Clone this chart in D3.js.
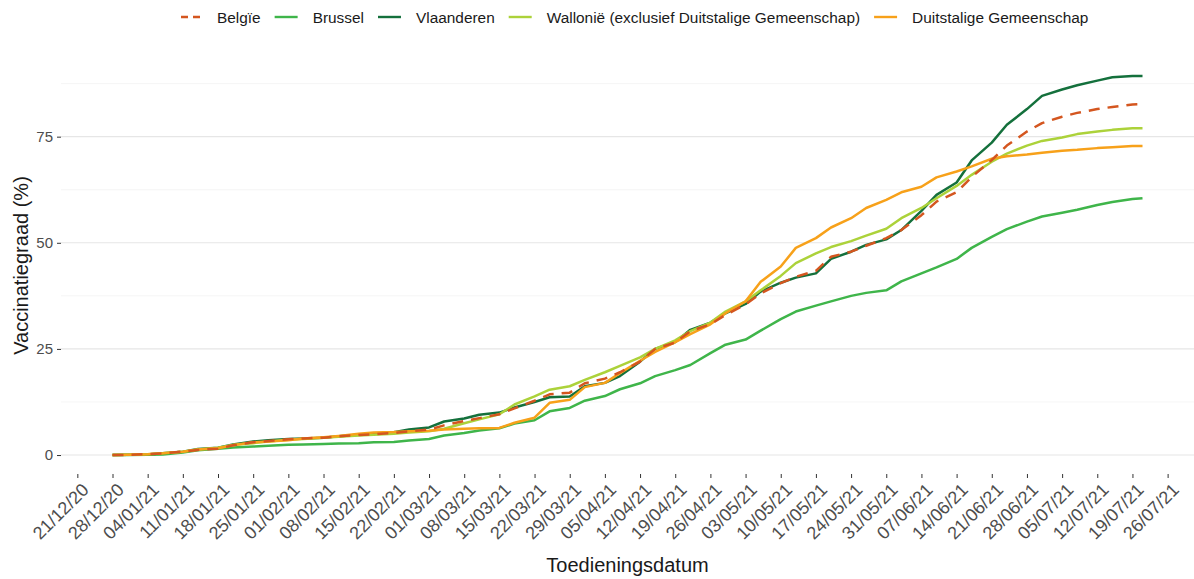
<!DOCTYPE html>
<html>
<head>
<meta charset="utf-8">
<script src="https://cdn.jsdelivr.net/npm/d3@7"></script>
<style>
  html, body { margin: 0; padding: 0; background: #fff; }
  svg { display: block; font-family: "Liberation Sans", Arial, sans-serif; }
</style>
</head>
<body>
<svg id="chart" width="1194" height="579"></svg>
<script>
const dates = ["2020-12-28","2020-12-31","2021-01-04","2021-01-07","2021-01-11","2021-01-14","2021-01-18","2021-01-21",
  "2021-01-25","2021-01-28","2021-02-01","2021-02-04","2021-02-08","2021-02-11","2021-02-15","2021-02-18",
  "2021-02-22","2021-02-25","2021-03-01","2021-03-04","2021-03-08","2021-03-11","2021-03-15","2021-03-18",
  "2021-03-22","2021-03-25","2021-03-29","2021-04-01","2021-04-05","2021-04-08","2021-04-12","2021-04-15",
  "2021-04-19","2021-04-22","2021-04-26","2021-04-29","2021-05-03","2021-05-06","2021-05-10","2021-05-13",
  "2021-05-17","2021-05-20","2021-05-24","2021-05-27","2021-05-31","2021-06-03","2021-06-07","2021-06-10",
  "2021-06-14","2021-06-17","2021-06-21","2021-06-24","2021-06-28","2021-07-01","2021-07-05","2021-07-08",
  "2021-07-12","2021-07-15","2021-07-19","2021-07-21"];

const belgie = [0, 0.05, 0.2, 0.4, 0.8, 1.2, 1.5, 2.3, 3.0, 3.3, 3.7, 3.9, 4.1, 4.4, 4.7, 4.9, 5.2, 5.6, 6.0, 7.0,
  8.0, 8.7, 9.6, 11.0, 12.8, 14.3, 14.7, 16.9, 18.0, 19.5, 22.0, 25.0, 26.5, 29.2, 30.8, 33.0, 35.5, 38.1, 40.5, 42.0,
  43.4, 46.7, 47.9, 49.3, 51.1, 53.0, 56.5, 59.7, 61.9, 65.5, 69.5, 72.9, 76.2, 78.2, 79.7, 80.6, 81.5, 82.0, 82.6, 82.7];
const brussel = [0, 0, 0.05, 0.1, 0.6, 1.1, 1.5, 1.8, 2.0, 2.2, 2.4, 2.5, 2.6, 2.7, 2.8, 3.0, 3.1, 3.4, 3.8, 4.6,
  5.2, 5.8, 6.3, 7.4, 8.2, 10.3, 11.1, 12.8, 13.9, 15.5, 16.9, 18.6, 20.0, 21.2, 24.0, 26.0, 27.2, 29.3, 32.0, 33.8,
  35.2, 36.2, 37.5, 38.2, 38.8, 40.9, 42.8, 44.2, 46.2, 48.8, 51.4, 53.2, 55.0, 56.2, 57.1, 57.8, 58.9, 59.6, 60.3, 60.5];
const vlaanderen = [0, 0.05, 0.15, 0.4, 0.8, 1.4, 1.7, 2.5, 3.2, 3.5, 3.8, 3.9, 4.1, 4.4, 4.8, 5.0, 5.4, 6.0, 6.5, 7.9,
  8.6, 9.5, 10.0, 11.2, 12.5, 13.6, 13.8, 16.2, 17.0, 18.6, 22.0, 25.0, 26.6, 29.5, 31.2, 33.4, 35.6, 38.5, 40.6, 41.8,
  42.8, 46.2, 47.9, 49.5, 50.8, 53.0, 57.5, 61.3, 64.2, 69.4, 73.6, 77.8, 81.5, 84.6, 86.1, 87.1, 88.2, 89.0, 89.3, 89.3];
const wallonie = [0, 0.05, 0.2, 0.4, 0.8, 1.3, 1.7, 2.4, 2.8, 3.2, 3.6, 3.8, 4.1, 4.3, 4.6, 4.8, 5.0, 5.3, 5.6, 6.2,
  7.5, 8.4, 9.6, 11.9, 13.8, 15.4, 16.2, 17.7, 19.5, 21.0, 23.0, 25.0, 27.0, 29.2, 31.2, 33.8, 36.2, 38.8, 42.2, 45.2,
  47.5, 49.0, 50.4, 51.7, 53.3, 55.8, 58.2, 60.5, 63.4, 66.0, 69.1, 71.0, 72.9, 74.0, 74.8, 75.6, 76.2, 76.6, 77.0, 77.0];
const duitstalig = [0, 0.05, 0.2, 0.4, 0.8, 1.3, 1.6, 2.3, 3.0, 3.2, 3.5, 3.9, 4.2, 4.5, 5.0, 5.3, 5.4, 5.6, 5.7, 6.0,
  6.2, 6.3, 6.4, 7.6, 8.8, 12.3, 13.0, 16.0, 17.0, 19.3, 22.2, 24.3, 26.6, 28.5, 30.8, 33.4, 36.2, 40.8, 44.4, 48.8,
  51.1, 53.6, 55.8, 58.2, 60.1, 61.9, 63.2, 65.4, 66.8, 68.0, 69.8, 70.4, 70.8, 71.2, 71.7, 71.9, 72.3, 72.5, 72.8, 72.8];

const seriesNames = ["Belgïe", "Brussel", "Vlaanderen", "Wallonië (exclusief Duitstalige Gemeenschap)", "Duitstalige Gemeenschap"];
const seriesValues = [belgie, brussel, vlaanderen, wallonie, duitstalig];
const seriesColors = ["#d4561f", "#3fb54a", "#14703c", "#acd23a", "#f7a11a"];
const drawOrder = [1, 2, 3, 4, 0]; // dashed België on top

const yTicks = [0, 25, 50, 75];
const yMinor = [12.5, 37.5, 62.5, 87.5];

const parse = d3.timeParse("%Y-%m-%d");
const dateObjs = dates.map(parse);

const svg = d3.select("#chart");
const margin = { top: 57, right: 0, bottom: 105, left: 61 };
const width = 1194, height = 579;

// ggplot-like 5% expansion
const xExt = d3.extent(dateObjs);
const xPad = (xExt[1] - xExt[0]) * 0.05;
const x = d3.scaleTime()
    .domain([new Date(+xExt[0] - xPad), new Date(+xExt[1] + xPad)])
    .range([margin.left, width - margin.right]);

const yMax = d3.max(seriesValues, s => d3.max(s));
const y = d3.scaleLinear()
    .domain([-yMax * 0.05, yMax * 1.05])
    .range([height - margin.bottom, margin.top]);

// grid
svg.append("g").selectAll("line")
    .data(yMinor)
    .join("line")
    .attr("x1", margin.left).attr("x2", width - margin.right)
    .attr("y1", d => y(d)).attr("y2", d => y(d))
    .attr("stroke", "#f2f2f2").attr("stroke-width", 0.8);

svg.append("g").selectAll("line")
    .data(yTicks)
    .join("line")
    .attr("x1", margin.left).attr("x2", width - margin.right)
    .attr("y1", d => y(d)).attr("y2", d => y(d))
    .attr("stroke", "#e6e6e6").attr("stroke-width", 1.1);

// y axis
const yAxis = svg.append("g")
    .attr("transform", `translate(${margin.left},0)`)
    .call(d3.axisLeft(y).tickValues(yTicks).tickSize(4).tickPadding(4));
yAxis.select(".domain").remove();
yAxis.selectAll(".tick line").attr("stroke", "#333");
yAxis.selectAll("text")
    .attr("fill", "#4d4d4d")
    .style("font-size", "15px")
    .style("font-family", "'Liberation Sans', Arial, sans-serif");

// x axis, weekly ticks on Mondays
const xTicks = d3.timeMonday.range(parse("2020-12-21"), parse("2021-07-27"));
const xAxis = svg.append("g")
    .attr("transform", `translate(0,${height - margin.bottom})`)
    .call(d3.axisBottom(x).tickValues(xTicks).tickSize(4).tickFormat(d3.timeFormat("%d/%m/%y")));
xAxis.select(".domain").remove();
xAxis.selectAll(".tick line").attr("stroke", "#333");
xAxis.selectAll("text")
    .attr("fill", "#4d4d4d")
    .style("font-size", "18px")
    .style("font-family", "'Liberation Sans', Arial, sans-serif")
    .attr("text-anchor", "end")
    .attr("dy", null)
    .attr("y", 0)
    .attr("transform", "translate(12,17) rotate(-45)");

// lines
const line = d3.line()
    .x((d, i) => x(dateObjs[i]))
    .y(d => y(d));

svg.append("g").selectAll("path")
    .data(drawOrder)
    .join("path")
    .attr("d", k => line(seriesValues[k]))
    .attr("fill", "none")
    .attr("stroke", k => seriesColors[k])
    .attr("stroke-width", 2.5)
    .attr("stroke-linejoin", "round")
    .attr("stroke-dasharray", k => k === 0 ? "11,8" : null);

// axis titles
svg.append("text")
    .attr("x", (margin.left + width - margin.right) / 2)
    .attr("y", 572)
    .attr("text-anchor", "middle")
    .style("font-size", "20px")
    .attr("fill", "#1a1a1a")
    .text("Toedieningsdatum");

svg.append("text")
    .attr("transform", `translate(28,${(margin.top + height - margin.bottom) / 2}) rotate(-90)`)
    .attr("text-anchor", "middle")
    .style("font-size", "20px")
    .attr("fill", "#1a1a1a")
    .text("Vaccinatiegraad (%)");

// legend
const legend = svg.append("g");
let lx = 179;
seriesNames.forEach((name, k) => {
    const g = legend.append("g").attr("transform", `translate(${lx},17)`);
    g.append("line")
        .attr("x1", 0).attr("x2", 23)
        .attr("stroke", seriesColors[k])
        .attr("stroke-width", 2.4)
        .attr("stroke-dasharray", k === 0 ? "7,5" : null)
        .attr("stroke-dashoffset", k === 0 ? -2 : null);
    const t = g.append("text")
        .attr("x", 38).attr("y", 5.5)
        .style("font-size", "15.4px")
        .attr("fill", "#1a1a1a")
        .text(name);
    lx += 38 + t.node().getComputedTextLength() + 14;
});
</script>
</body>
</html>
